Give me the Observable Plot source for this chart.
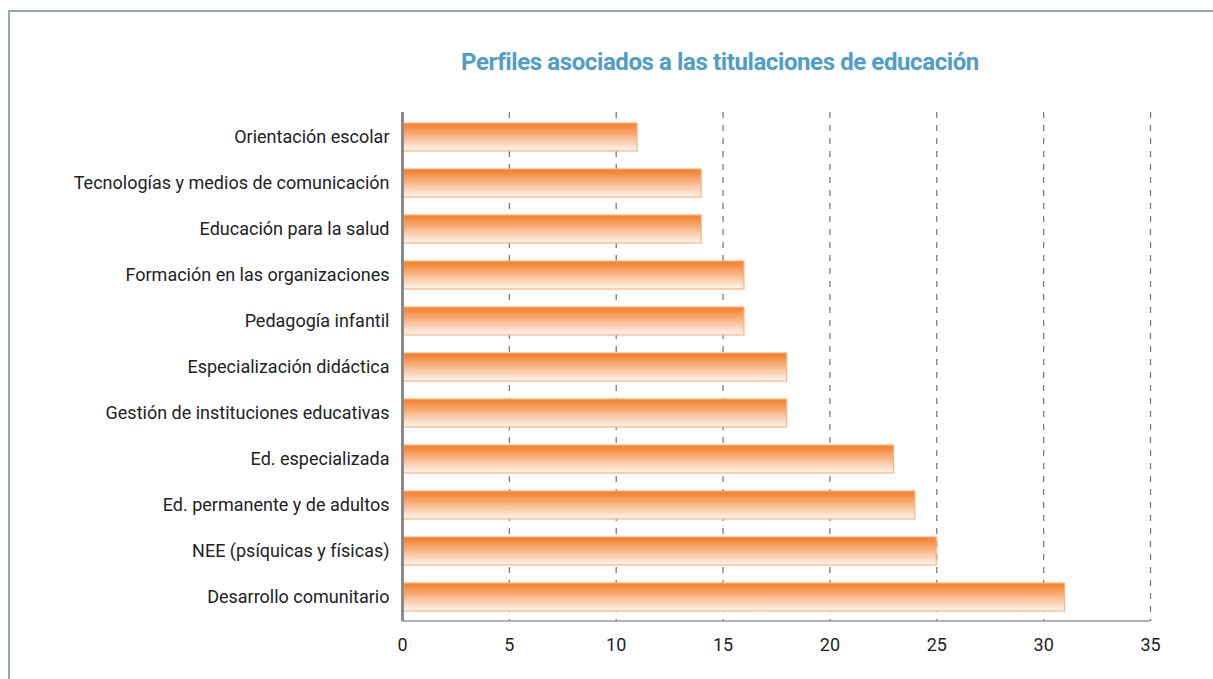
<!DOCTYPE html>
<html><head><meta charset="utf-8">
<script src="https://cdn.jsdelivr.net/npm/d3@7"></script>
<script src="https://cdn.jsdelivr.net/npm/@observablehq/plot@0.6"></script>
<style>
body{margin:0;background:#fff;font-family:Roboto,"Open Sans",sans-serif;}
#wrap{position:relative;width:1213px;height:679px;overflow:hidden;}
#frame{position:absolute;left:8px;top:10px;width:1220px;height:700px;border-left:2px solid #8ea7ba;border-top:2px solid #8ea7ba;}
#title{position:absolute;left:0;top:48px;width:1440px;text-align:center;font-size:24px;font-weight:bold;color:#4f9dc9;letter-spacing:-0.4px;}
#chart{position:absolute;left:0;top:90px;}
</style></head>
<body><div id="wrap"><div id="frame"></div><div id="title">Perfiles asociados a las titulaciones de educación</div><div id="chart"></div></div>
<script>
const categories = ["Orientación escolar","Tecnologías y medios de comunicación","Educación para la salud","Formación en las organizaciones","Pedagogía infantil","Especialización didáctica","Gestión de instituciones educativas","Ed. especializada","Ed. permanente y de adultos","NEE (psíquicas y físicas)","Desarrollo comunitario"];
const values = [11,14,14,16,16,18,18,23,24,25,31];
const ticks = [0,5,10,15,20,25,30,35];
const data = categories.map((c,i)=>({c, v: values[i]}));
const ns = "http://www.w3.org/2000/svg";

const defs = () => {
  const d = document.createElementNS(ns,"defs");
  const g = document.createElementNS(ns,"linearGradient");
  g.setAttribute("id","barGrad"); g.setAttribute("x1","0"); g.setAttribute("y1","0"); g.setAttribute("x2","0"); g.setAttribute("y2","1");
  [["0","#f3812a"],["0.12","#f5893a"],["0.55","#f9bf97"],["1","#fff6f0"]].forEach(([o,c])=>{
    const s=document.createElementNS(ns,"stop"); s.setAttribute("offset",o); s.setAttribute("stop-color",c); g.appendChild(s);
  });
  d.appendChild(g);
  return d;
};

// bottom axis line drawn from the x scale and the frame dimensions
const baseLine = (index, scales, values, dim) => {
  const l = document.createElementNS(ns,"line");
  const yb = dim.height - dim.marginBottom;
  l.setAttribute("x1", scales.x(ticks[0])); l.setAttribute("x2", scales.x(ticks[ticks.length-1]));
  l.setAttribute("y1", yb); l.setAttribute("y2", yb);
  l.setAttribute("stroke","#9a9a9a"); l.setAttribute("stroke-width","1.3");
  return l;
};

const chart = Plot.plot({
  width: 1213, height: 589,
  marginLeft: 402, marginRight: 63, marginTop: 22, marginBottom: 58,
  style: {fontFamily: "Roboto, sans-serif", fontSize: "18px", color: "#222", background: "transparent"},
  x: {domain: [0,35], ticks: ticks, label: null, tickSize: 0, tickPadding: 17},
  y: {domain: categories, paddingInner: 0.4, paddingOuter: 0.2, label: null, tickSize: 0, tickPadding: 13},
  marks: [
    defs,
    Plot.ruleX(ticks.filter(t=>t>0), {stroke: "#7a7a7a", strokeDasharray: "6,7", strokeWidth: 1.3, strokeOpacity: 1}),
    baseLine,
    Plot.barX(data, {x: "v", y: "c", fill: "url(#barGrad)", stroke: "#f8b27e", strokeWidth: 1.2}),
    Plot.ruleX([0], {stroke: "#8a8a8a", strokeWidth: 3})
  ]
});
document.getElementById("chart").appendChild(chart);
</script></body></html>
